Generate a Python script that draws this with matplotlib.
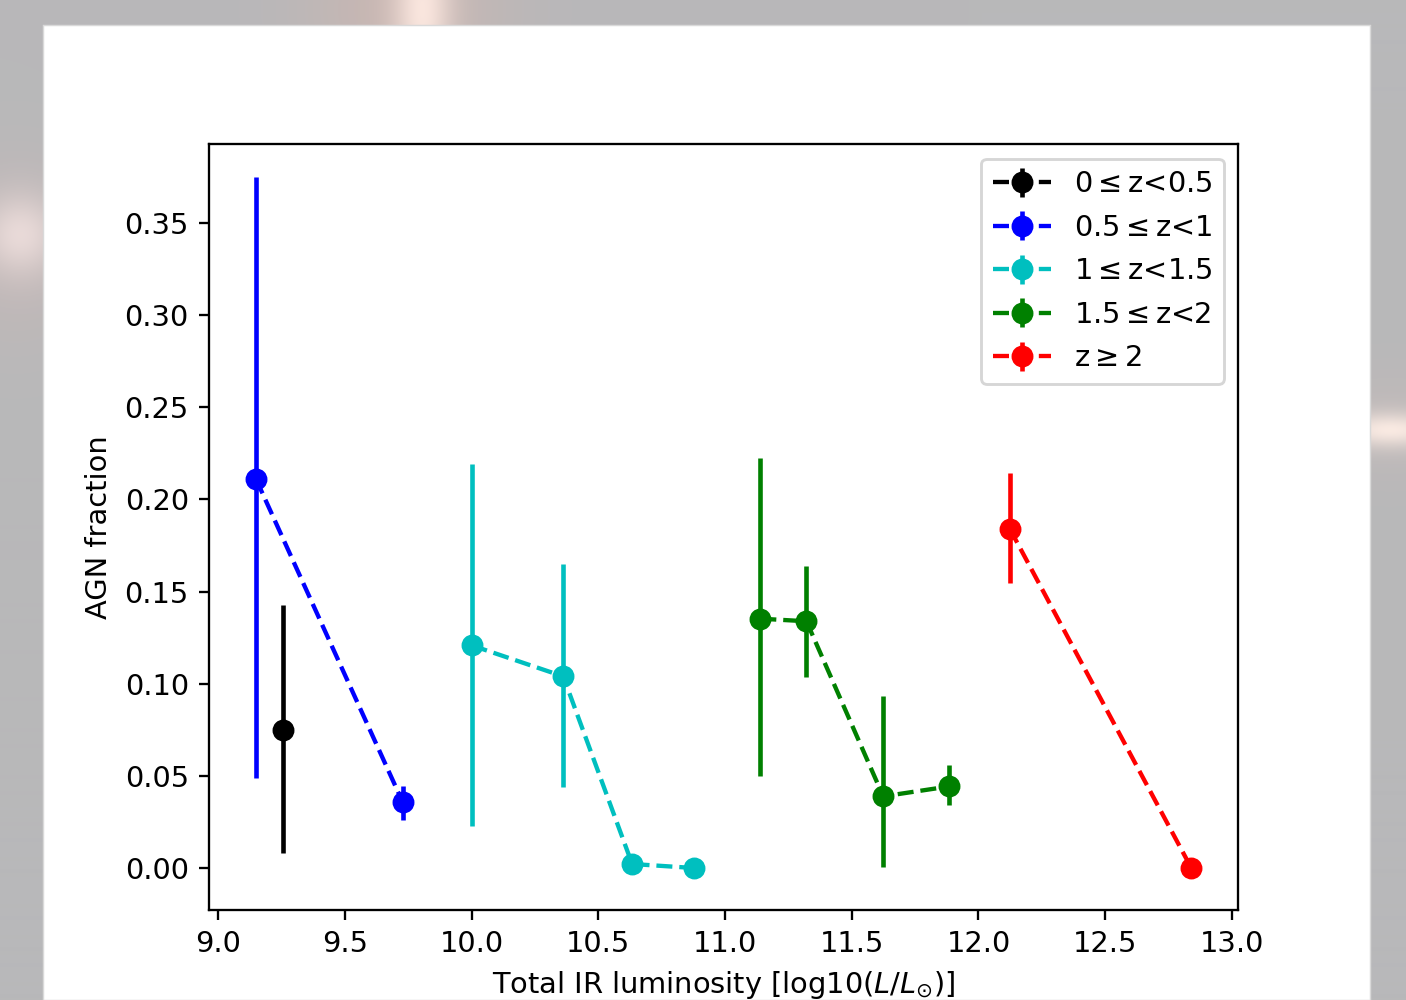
import numpy as np
import matplotlib
matplotlib.use("Agg")
import matplotlib.pyplot as plt
from matplotlib.patches import Rectangle

# ---- data ----
labels = [r'0$\leq$z<0.5', r'0.5$\leq$z<1', r'1$\leq$z<1.5', r'1.5$\leq$z<2', r'z$\geq$2']
colors = ['k', 'b', 'c', 'g', 'r']

lum_0 = [9.254]
frac_0 = [0.0751]
hi_0 = [0.1426]
lo_0 = [0.0081]

lum_1 = [9.148, 9.728]
frac_1 = [0.2112, 0.0356]
hi_1 = [0.3748, 0.0443]
lo_1 = [0.0489, 0.0262]

lum_2 = [10.0, 10.361, 10.633, 10.879]
frac_2 = [0.1208, 0.1040, 0.0022, 0.0]
hi_2 = [0.2195, 0.1652, 0.0022, 0.0]
lo_2 = [0.0226, 0.0440, 0.0022, 0.0]

lum_3 = [11.139, 11.321, 11.624, 11.885]
frac_3 = [0.1353, 0.1339, 0.0389, 0.0443]
hi_3 = [0.2226, 0.1641, 0.0932, 0.0561]
lo_3 = [0.0497, 0.1037, 0.0003, 0.0340]

lum_4 = [12.123, 12.840]
frac_4 = [0.1842, 0.0]
hi_4 = [0.2144, 0.0]
lo_4 = [0.1547, 0.0]

series = [(lum_0, frac_0, hi_0, lo_0), (lum_1, frac_1, hi_1, lo_1),
          (lum_2, frac_2, hi_2, lo_2), (lum_3, frac_3, hi_3, lo_3),
          (lum_4, frac_4, hi_4, lo_4)]

W, H = 1406, 1000
dpi = 207.5
fig = plt.figure(figsize=(W / dpi, H / dpi), dpi=dpi)

# ---- blurred backdrop ----
yy, xx = np.mgrid[0:H, 0:W].astype(float)
bg = np.ones((H, W, 3)) * np.array([184, 184, 186]) / 255.0
def blob(base, cx, cy, sx, sy, col, amp):
    g = amp * np.exp(-(((xx - cx) / sx) ** 2 + ((yy - cy) / sy) ** 2) / 2)
    return base + g[..., None] * (np.array(col) / 255.0 - base)
bg = blob(bg, 405, 10, 70, 60, (205, 182, 176), 0.8)
bg = blob(bg, 422, 10, 20, 60, (252, 232, 224), 0.95)
bg = blob(bg, 15, 250, 60, 70, (200, 184, 182), 0.6)
bg = blob(bg, 20, 235, 28, 28, (242, 226, 224), 0.8)
bg = blob(bg, 1390, 425, 60, 40, (200, 188, 185), 0.5)
bg = blob(bg, 1390, 430, 40, 12, (252, 236, 228), 0.95)
bg = np.clip(bg, 0, 1)
axbg = fig.add_axes([0, 0, 1, 1])
axbg.imshow(bg, extent=[0, W, H, 0], aspect='auto', interpolation='bilinear')
axbg.add_patch(Rectangle((43, 25), 1370 - 43, 1000 - 25, facecolor='white',
                         edgecolor=(0.85, 0.85, 0.85), linewidth=0.5))
axbg.set_xlim(0, W)
axbg.set_ylim(H, 0)
axbg.axis('off')

# ---- main axes ----
ax = fig.add_axes([209 / W, (H - 909.7) / H, 1029.2 / W, 765.4 / H])
for (x, y, hi, lo), c, lab in zip(series, colors, labels):
    y = np.array(y)
    yerr = [y - np.array(lo), np.array(hi) - y]
    ax.errorbar(x, y, yerr=yerr, fmt='o--', color=c, label=lab,
                lw=1.5, ms=6.6, elinewidth=1.6)

ax.set_xlim(8.963, 13.025)
ax.set_ylim(-0.0226, 0.3927)
ax.set_xticks([9.0, 9.5, 10.0, 10.5, 11.0, 11.5, 12.0, 12.5, 13.0])
ax.set_yticks([0.0, 0.05, 0.10, 0.15, 0.20, 0.25, 0.30, 0.35])
ax.set_xlabel(r'Total IR luminosity [log10($L/L_{\odot}$)]')
ax.set_ylabel('AGN fraction')
ax.legend(loc='upper right', labelspacing=0.54)

fig.savefig('out.png', dpi=dpi)
